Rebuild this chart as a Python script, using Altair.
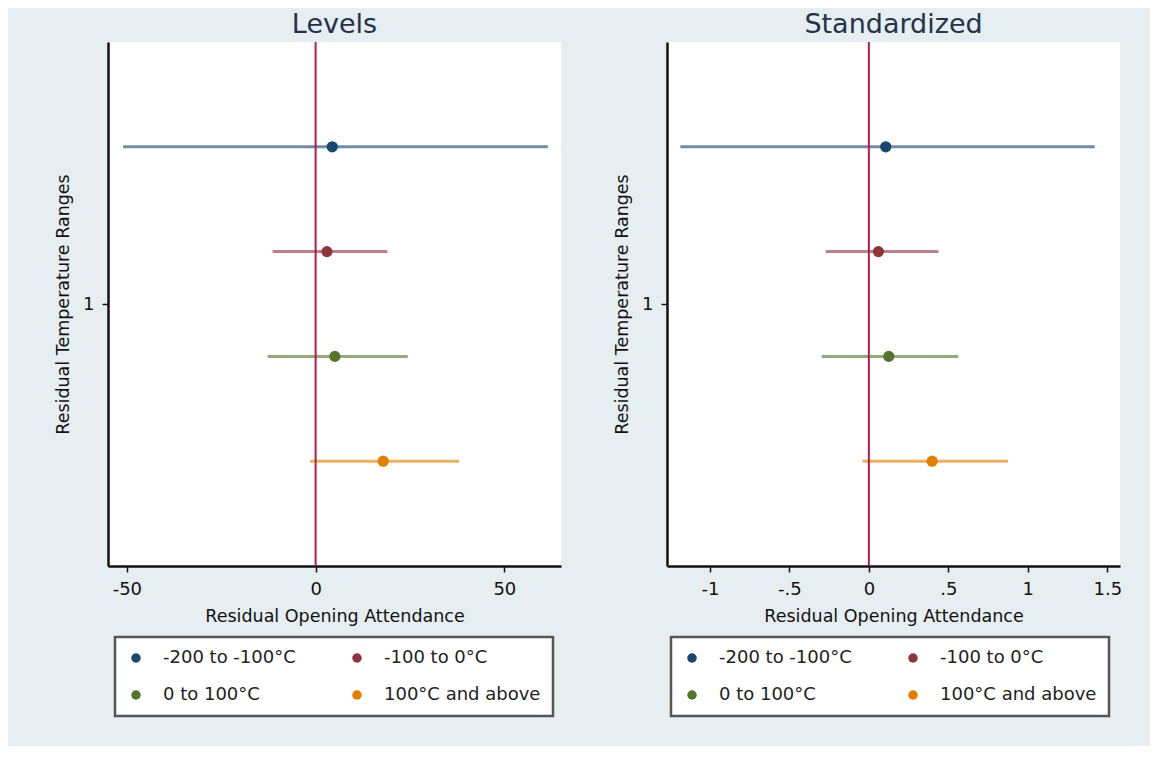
import altair as alt
import pandas as pd

# ---- data ----
categories = ["-200 to -100°C", "-100 to 0°C", "0 to 100°C", "100°C and above"]
offsets = [-0.3, -0.1, 0.1, 0.3]          # coefplot offsets around group 1
group_center = 1.0
colors = ["#1a476f", "#90353b", "#55752f", "#e37e00"]

levels_est = [4.4, 3.0, 5.1, 17.9]
levels_lo = [-51.0, -11.4, -12.7, -1.5]
levels_hi = [61.5, 19.0, 24.4, 38.0]

std_est = [0.106, 0.060, 0.125, 0.398]
std_lo = [-1.186, -0.271, -0.297, -0.040]
std_hi = [1.421, 0.438, 0.563, 0.875]

levels_ticks = [-50, 0, 50]
std_ticks = [-1, -0.5, 0, 0.5, 1, 1.5]
levels_domain = [-55, 65]
std_domain = [-1.27, 1.58]

FONT = "DejaVu Sans"
BG = "#e6eef2"
ZERO_COLOR = "#b01c4a"


def make_df(est, lo, hi):
    return pd.DataFrame({
        "category": categories,
        "series_color": colors,
        "pos": [group_center + o for o in offsets],
        "est": est,
        "lo": lo,
        "hi": hi,
    })


def panel(df, title, domain, ticks, legend_x):
    color_scale = alt.Scale(domain=categories, range=colors)
    xscale = alt.Scale(domain=domain, nice=False, zero=False)
    xaxis = alt.Axis(values=ticks, title="Residual Opening Attendance",
                     labelExpr="replace(toString(datum.value), '0.', '.')")
    yscale = alt.Scale(domain=[0.5, 1.5], reverse=True, nice=False, zero=False)
    yaxis = alt.Axis(values=[1], title="Residual Temperature Ranges", format="d")

    base = alt.Chart(df)
    ci = base.mark_rule(strokeWidth=3, opacity=0.62).encode(
        x=alt.X("lo:Q", scale=xscale, axis=xaxis),
        x2="hi:Q",
        y=alt.Y("pos:Q", scale=yscale, axis=yaxis),
        stroke=alt.Stroke("series_color:N", scale=None),
    )
    zero = alt.Chart(pd.DataFrame({"z": [0]})).mark_rule(
        color=ZERO_COLOR, strokeWidth=2
    ).encode(x=alt.X("z:Q", scale=xscale))
    pts = base.mark_circle(size=125, opacity=1).encode(
        x=alt.X("est:Q", scale=xscale),
        y=alt.Y("pos:Q", scale=yscale),
        color=alt.Color(
            "category:N", scale=color_scale,
            legend=alt.Legend(
                title=None,
                orient="none", legendX=legend_x, legendY=595,
                columns=2, direction="horizontal",
                padding=12, rowPadding=19, columnPadding=52,
                labelOffset=18, symbolSize=90, symbolType="circle",
                symbolStrokeWidth=0,
                fillColor="white", strokeColor="#555555",
                labelFont=FONT, labelFontSize=18, labelColor="#222222",
                labelLimit=300,
            ),
        ),
    )
    return alt.layer(ci, zero, pts).properties(
        width=453, height=524,
        title=alt.TitleParams(title, font=FONT, fontSize=27, fontWeight="normal",
                              color="#25324a", anchor="middle", offset=2),
    )


left = panel(make_df(levels_est, levels_lo, levels_hi), "Levels", levels_domain, levels_ticks, 7)
right = panel(make_df(std_est, std_lo, std_hi), "Standardized", std_domain, std_ticks, 4)

chart = alt.hconcat(left, right, spacing=52).resolve_scale(
    color="independent"
).properties(
    padding={"left": 46, "top": 3, "right": 28, "bottom": 28},
    background=BG,
).configure_view(
    fill="white", strokeWidth=0
).configure_axis(
    grid=False,
    domainColor="#111111", domainWidth=2.5,
    tickColor="#111111", tickWidth=1.5, tickSize=6,
    labelFont=FONT, labelFontSize=18, labelColor="#111111",
    titleFont=FONT, titleFontSize=17.5, titleFontWeight="normal", titleColor="#111111",
).configure_axisX(
    labelPadding=8, titlePadding=9,
).configure_axisY(
    labelPadding=8, titlePadding=10,
).configure_legend(
    strokeWidth=2.5,
)

chart.save("out.html", embed_options={"renderer": "svg", "actions": False})
